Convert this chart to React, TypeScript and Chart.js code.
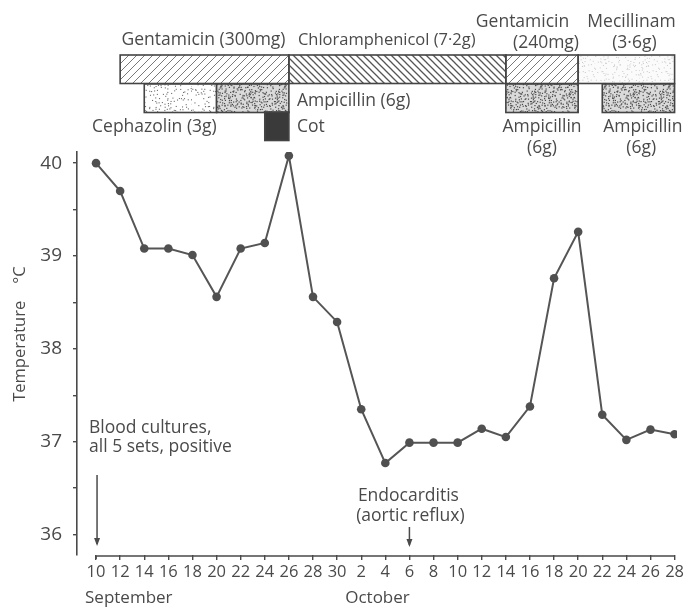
import React, { useEffect, useRef } from "react";
import { Chart, registerables } from "chart.js";

Chart.register(...registerables);

// ---------- data ----------
const tickLabels = ["10", "12", "14", "16", "18", "20", "22", "24", "26", "28", "30",
  "2", "4", "6", "8", "10", "12", "14", "16", "18", "20", "22", "24", "26", "28"];
// days counted from 10 September
const dayOffsets = [0, 2, 4, 6, 8, 10, 12, 14, 16, 18, 20, 22, 24, 26, 28, 30, 32, 34, 36, 38, 40, 42, 44, 46, 48];
const temperatures = [40.0, 39.7, 39.08, 39.08, 39.01, 38.56, 39.08, 39.14, 40.08, 38.56, 38.29,
  37.35, 36.77, 36.99, 36.99, 36.99, 37.14, 37.05, 37.38, 38.76, 39.26, 37.29, 37.02, 37.13, 37.08];
const yTickValues = [36, 36.5, 37, 37.5, 38, 38.5, 39, 39.5, 40];

const treatmentDrugs = ["Gentamicin", "Chloramphenicol", "Gentamicin", "Mecillinam",
  "Cephazolin", "Ampicillin", "Cot", "Ampicillin", "Ampicillin"];
const treatmentStart = [2, 16, 34, 40, 4, 10, 14, 34, 42];
const treatmentEnd = [16, 34, 40, 48, 10, 16, 16, 40, 48];

// ---------- styles ----------
const INK = "#4a4a4a";
const FONT = "'Open Sans', 'DejaVu Sans', sans-serif";
const rowTop = [55, 84, 112];
const rowHeight = 28.5;
const treatmentRow = [0, 0, 0, 0, 1, 1, 2, 1, 1];
const treatmentFill = ["hatchA", "hatchB", "hatchA", "stippleLight", "stippleMid", "stippleDense", "solid", "stippleDense", "stippleDense"];

function lcg(seed: number) {
  let s = seed >>> 0;
  return () => {
    s = (s * 1664525 + 1013904223) >>> 0;
    return s / 4294967296;
  };
}

function makeHatch(ctx: CanvasRenderingContext2D, s: number, forward: boolean, lw: number, color: string) {
  const c = document.createElement("canvas");
  c.width = s; c.height = s;
  const g = c.getContext("2d")!;
  g.strokeStyle = color; g.lineWidth = lw;
  g.beginPath();
  if (forward) {
    g.moveTo(-1, s + 1); g.lineTo(s + 1, -1);
    g.moveTo(-1, 1); g.lineTo(1, -1);
    g.moveTo(s - 1, s + 1); g.lineTo(s + 1, s - 1);
  } else {
    g.moveTo(-1, -1); g.lineTo(s + 1, s + 1);
    g.moveTo(s - 1, -1); g.lineTo(s + 1, 1);
    g.moveTo(-1, s - 1); g.lineTo(1, s + 1);
  }
  g.stroke();
  return ctx.createPattern(c, "repeat")!;
}

function makeStipple(ctx: CanvasRenderingContext2D, cell: number, jitter: number, color: string, bg: string, seed: number, size: number, keep: number) {
  const c = document.createElement("canvas");
  c.width = 64; c.height = 64;
  const g = c.getContext("2d")!;
  g.fillStyle = bg; g.fillRect(0, 0, 64, 64);
  g.fillStyle = color;
  const r = lcg(seed);
  for (let y = 0; y < 64; y += cell) {
    for (let x = 0; x < 64; x += cell) {
      if (r() > keep) continue;
      const dx = x + (r() - 0.5) * jitter, dy = y + (r() - 0.5) * jitter;
      g.fillRect(((dx % 64) + 64) % 64, ((dy % 64) + 64) % 64, size, size);
    }
  }
  return ctx.createPattern(c, "repeat")!;
}

const overlayPlugin = {
  id: "overlay",
  afterDraw(chart: any) {
    const ctx: CanvasRenderingContext2D = chart.ctx;
    const xs = chart.scales.x;
    const area = chart.chartArea;
    const px = (d: number) => xs.getPixelForValue(d);
    ctx.save();

    // x axis line
    ctx.strokeStyle = INK; ctx.lineWidth = 1.6;
    ctx.beginPath();
    ctx.moveTo(px(dayOffsets[0]), area.bottom + 4);
    ctx.lineTo(px(dayOffsets[0]), area.bottom + 1);
    ctx.lineTo(px(dayOffsets[dayOffsets.length - 1]), area.bottom + 1);
    ctx.stroke();

    // treatment bars
    const fills: Record<string, any> = {
      hatchA: makeHatch(ctx, 8, true, 0.9, "#6a6a6a"),
      hatchB: makeHatch(ctx, 7, false, 1.3, "#555"),
      stippleLight: makeStipple(ctx, 3, 3, "#c8c8c8", "#fbfbfb", 7, 1, 0.6),
      stippleMid: makeStipple(ctx, 3, 2.5, "#707070", "#ffffff", 11, 1.1, 0.55),
      stippleDense: makeStipple(ctx, 2, 2, "#4a4a4a", "#dadada", 23, 1.2, 0.6),
      solid: "#3a3a3a",
    };
    treatmentDrugs.forEach((_, i) => {
      const x0 = px(treatmentStart[i]);
      const x1 = px(treatmentEnd[i]);
      const y0 = rowTop[treatmentRow[i]];
      ctx.fillStyle = fills[treatmentFill[i]];
      ctx.fillRect(x0, y0, x1 - x0, rowHeight);
      ctx.strokeStyle = "#444"; ctx.lineWidth = 1.6;
      ctx.strokeRect(x0, y0, x1 - x0, rowHeight);
    });

    // texts
    ctx.fillStyle = INK;
    ctx.textBaseline = "middle";
    const t = (s: string, x: number, y: number, align: CanvasTextAlign = "left", size = 17.5) => {
      ctx.font = `${size}px ${FONT}`;
      ctx.textAlign = align;
      ctx.fillText(s, x, y);
    };
    t("Gentamicin (300mg)", (px(2) + px(16)) / 2 - 1, 40, "center");
    t("Chloramphenicol (7·2g)", px(16) + 9, 40, "left", 16.5);
    t("Gentamicin", px(34) - 30, 22, "left");
    t("(240mg)", (px(34) + px(40)) / 2 + 4, 43, "center");
    t("Mecillinam", px(48) + 1, 22, "right");
    t("(3·6g)", (px(40) + px(48)) / 2 + 8, 43, "center");
    t("Ampicillin (6g)", px(16) + 8, 101, "left");
    t("Cephazolin (3g)", px(0) - 4, 127, "left");
    t("Cot", px(16) + 8, 127, "left");
    t("Ampicillin", (px(34) + px(40)) / 2, 127, "center");
    t("(6g)", (px(34) + px(40)) / 2, 148, "center");
    t("Ampicillin", px(42) + 1, 127, "left");
    t("(6g)", px(42) + 24, 148, "left");

    t("Blood cultures,", px(0) - 7, 428, "left");
    t("all 5 sets, positive", px(0) - 7, 447, "left");
    t("Endocarditis", px(26) - 1, 496, "center");
    t("(aortic reflux)", px(26) + 1, 516, "center");
    t("September", px(0) - 11, 598, "left", 17);
    t("October", px(22) - 16, 598, "left", 17);

    // arrows
    const arrow = (x: number, y0: number, y1: number) => {
      ctx.strokeStyle = INK; ctx.lineWidth = 1.5;
      ctx.beginPath(); ctx.moveTo(x, y0); ctx.lineTo(x, y1 - 2); ctx.stroke();
      ctx.fillStyle = INK;
      ctx.beginPath(); ctx.moveTo(x - 3, y1 - 8); ctx.lineTo(x + 3, y1 - 8); ctx.lineTo(x, y1); ctx.closePath(); ctx.fill();
    };
    arrow(px(0) + 1, 475, 546);
    arrow(px(26), 527, 547);

    // y title
    ctx.save();
    ctx.translate(20, 334);
    ctx.rotate(-Math.PI / 2);
    ctx.fillStyle = INK;
    t("Temperature    °C", 0, 0, "center", 16.5);
    ctx.restore();

    ctx.restore();
  },
};

export default function App() {
  const ref = useRef<HTMLCanvasElement>(null);
  useEffect(() => {
    document.body.style.margin = "0";
    const chart = new Chart(ref.current!, {
      type: "line",
      data: {
        datasets: [{
          data: dayOffsets.map((d, i) => ({ x: d, y: temperatures[i] })),
          borderColor: "#555",
          backgroundColor: "#555",
          borderWidth: 2,
          pointRadius: 4.3,
          pointBackgroundColor: "#505050",
          pointBorderWidth: 0,
          tension: 0,
        }],
      },
      options: {
        animation: false,
        responsive: false,
        layout: { padding: { top: 152, left: 0, right: 11, bottom: 0 } },
        plugins: { legend: { display: false }, tooltip: { enabled: false } },
        scales: {
          x: {
            type: "linear",
            min: -1.58,
            max: 48.2,
            afterBuildTicks: (s: any) => { s.ticks = dayOffsets.map((v) => ({ value: v })); },
            afterFit: (s: any) => { s.height = 53; },
            border: { display: false },
            grid: { drawOnChartArea: false, drawTicks: true, tickLength: 5, color: INK, lineWidth: 1.4 },
            ticks: {
              callback: (_v: any, i: number) => tickLabels[i],
              color: INK,
              font: { family: FONT, size: 16.5 },
              padding: 2,
              maxRotation: 0,
              autoSkip: false,
            },
          },
          y: {
            min: 35.78,
            max: 40.12,
            afterBuildTicks: (s: any) => { s.ticks = yTickValues.map((v) => ({ value: v })); },
            afterFit: (s: any) => { s.width = 77; },
            border: { display: true, color: INK, width: 1.6 },
            grid: { drawOnChartArea: false, drawTicks: true, tickLength: 4, color: INK, lineWidth: 1.4 },
            ticks: {
              callback: (v: any) => (Number.isInteger(v) ? String(v) : ""),
              color: INK,
              font: { family: FONT, size: 19 },
              padding: 11,
            },
          },
        },
      },
      plugins: [overlayPlugin],
    });
    return () => chart.destroy();
  }, []);
  return <canvas ref={ref} width={688} height={608} style={{ display: "block", width: 688, height: 608 }} />;
}
